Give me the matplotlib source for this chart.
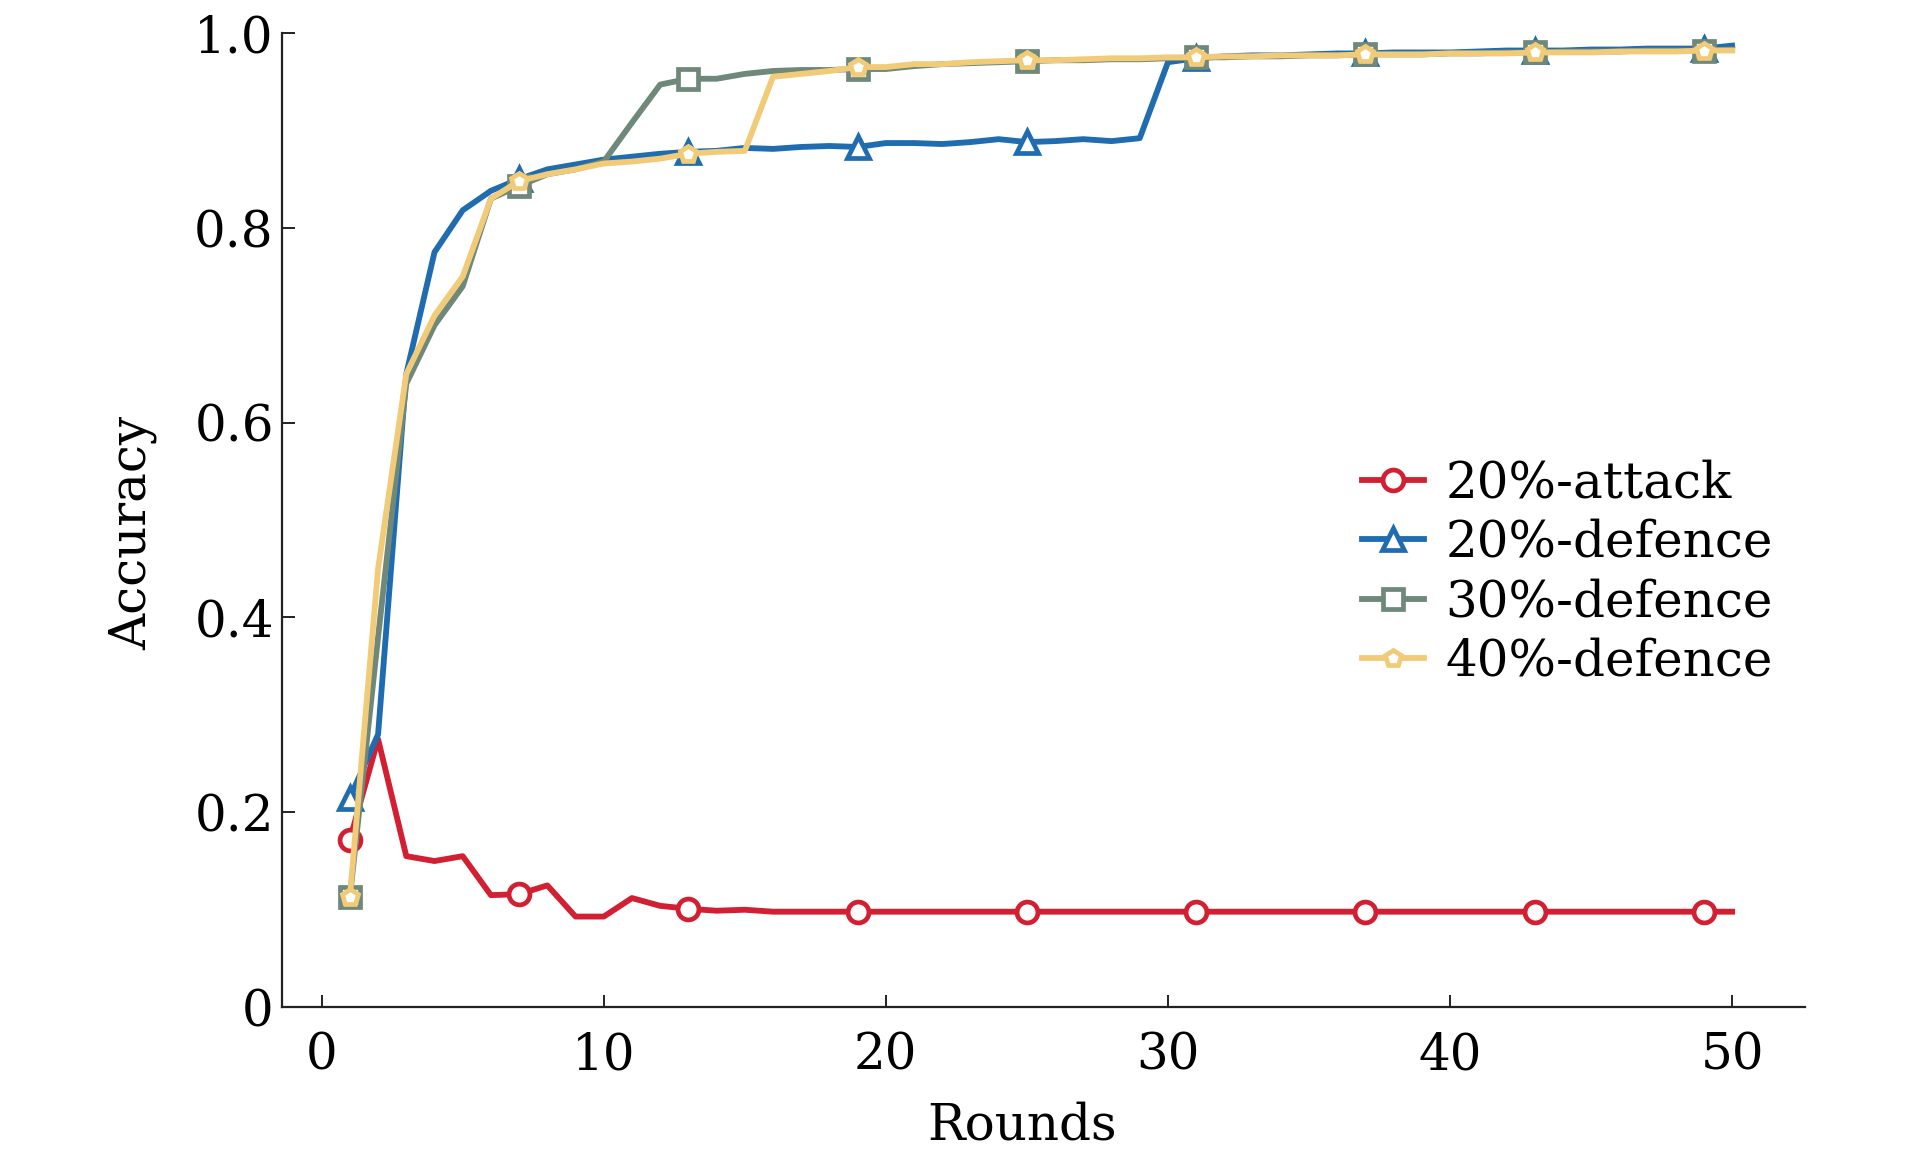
import numpy as np
import matplotlib
matplotlib.use("Agg")
import matplotlib.pyplot as plt

# Rounds 1..50
rounds = np.arange(1, 51)

attack_20 = [0.172, 0.275, 0.155, 0.150, 0.155, 0.115, 0.116, 0.125, 0.093, 0.093,
             0.112, 0.104, 0.101, 0.099, 0.100, 0.098, 0.098, 0.098, 0.098, 0.098,
             0.098, 0.098, 0.098, 0.098, 0.098, 0.098, 0.098, 0.098, 0.098, 0.098,
             0.098, 0.098, 0.098, 0.098, 0.098, 0.098, 0.098, 0.098, 0.098, 0.098,
             0.098, 0.098, 0.098, 0.098, 0.098, 0.098, 0.098, 0.098, 0.098, 0.098]

defence_20 = [0.215, 0.280, 0.650, 0.775, 0.818, 0.838, 0.850, 0.860, 0.865, 0.870,
              0.873, 0.876, 0.878, 0.879, 0.882, 0.881, 0.883, 0.884, 0.883, 0.887,
              0.887, 0.886, 0.888, 0.891, 0.888, 0.889, 0.891, 0.889, 0.892, 0.970,
              0.974, 0.976, 0.977, 0.977, 0.978, 0.979, 0.979, 0.980, 0.980, 0.980,
              0.981, 0.982, 0.982, 0.982, 0.983, 0.983, 0.984, 0.984, 0.984, 0.987]

defence_30 = [0.113, 0.380, 0.640, 0.700, 0.740, 0.830, 0.843, 0.855, 0.860, 0.868,
              0.908, 0.947, 0.953, 0.953, 0.958, 0.961, 0.962, 0.962, 0.963, 0.963,
              0.966, 0.968, 0.969, 0.970, 0.971, 0.972, 0.972, 0.973, 0.973, 0.974,
              0.975, 0.975, 0.976, 0.976, 0.977, 0.977, 0.978, 0.978, 0.978, 0.979,
              0.979, 0.980, 0.980, 0.981, 0.981, 0.981, 0.982, 0.982, 0.982, 0.983]

defence_40 = [0.113, 0.450, 0.650, 0.710, 0.750, 0.830, 0.848, 0.855, 0.860, 0.866,
              0.868, 0.871, 0.876, 0.878, 0.879, 0.955, 0.958, 0.961, 0.965, 0.965,
              0.968, 0.968, 0.970, 0.971, 0.972, 0.972, 0.973, 0.974, 0.974, 0.975,
              0.975, 0.976, 0.976, 0.977, 0.977, 0.977, 0.978, 0.978, 0.978, 0.979,
              0.979, 0.979, 0.980, 0.980, 0.980, 0.981, 0.981, 0.981, 0.982, 0.982]

labels = ["20%-attack", "20%-defence", "30%-defence", "40%-defence"]
x_ticks = [0, 10, 20, 30, 40, 50]
y_ticks = [0, 0.2, 0.4, 0.6, 0.8, 1.0]
y_tick_labels = ["0", "0.2", "0.4", "0.6", "0.8", "1.0"]

plt.rcParams['font.family'] = ['DejaVu Serif']
plt.rcParams['font.size'] = 36

fig = plt.figure(figsize=(19.13, 11.57), dpi=100)
ax = fig.add_axes([0.1475, 0.1295, 0.7963, 0.842])

series = [
    (attack_20, '#d21f32', 'o', 15),
    (defence_20, '#1f6cb0', '^', 16),
    (defence_30, '#6e887a', 's', 14),
    (defence_40, '#f2cb78', 'p', 12),
]
for (vals, color, marker, ms), lab in zip(series, labels):
    ax.plot(rounds, vals, color=color, lw=4.2, marker=marker, markersize=ms,
            markerfacecolor='white', markeredgecolor=color, markeredgewidth=3.4,
            markevery=6, label=lab)

ax.set_xlim(-1.4, 52.6)
ax.set_ylim(0, 1.0)
ax.set_xticks(x_ticks)
ax.set_yticks(y_ticks)
ax.set_yticklabels(y_tick_labels)
ax.spines['top'].set_visible(False)
ax.spines['right'].set_visible(False)
for s in ['left', 'bottom']:
    ax.spines[s].set_linewidth(1.6)
    ax.spines[s].set_color('#222222')
ax.tick_params(direction='in', length=9, width=1.4, color='#222222')
ax.tick_params(axis='x', pad=17)
ax.tick_params(axis='y', pad=6)

ax.set_xlabel("Rounds")
ax.set_ylabel("Accuracy")
ax.xaxis.set_label_coords(0.4856, -0.096)
ax.yaxis.set_label_coords(-0.082, 0.487)

ax.legend(loc='center left', bbox_to_anchor=(0.709, 0.446), frameon=False,
          borderpad=0, borderaxespad=0, handlelength=1.24, handletextpad=0.42,
          labelspacing=0.2)

fig.savefig("out.png", dpi=100)
